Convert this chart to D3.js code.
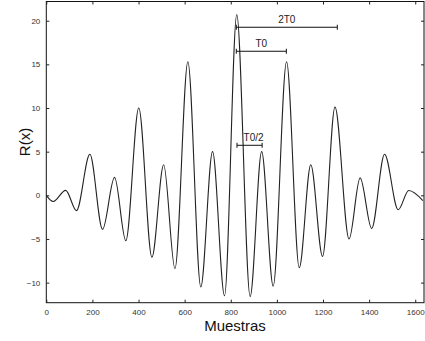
<!DOCTYPE html>
<html><head><meta charset="utf-8">
<script src="https://cdn.jsdelivr.net/npm/d3@7"></script>
<style>body{margin:0;background:#fff}svg{display:block}</style>
</head><body>
<script>
// Extrema of R(x) (sample index, value)
const samples = [0,30,84,131,189,244,296,345,401,458,509,558,614,670,721,773,826,884,934,984,1042,1097,1147,1198,1252,1313,1361,1411,1467,1526,1572,1633];
const values  = [0,-0.7,0.57,-1.75,4.7,-3.9,2.05,-5.2,10.0,-7.1,3.5,-8.4,15.3,-10.5,5.0,-11.5,20.7,-11.6,5.0,-10.4,15.3,-8.3,3.5,-7.0,10.1,-5.0,2.0,-3.8,4.7,-1.65,0.55,-0.6];
const xTicks = [0,200,400,600,800,1000,1200,1400,1600];
const yTicks = [-10,-5,0,5,10,15,20];
// Annotations
const annLabels = ["2T0","T0","T0/2"];
const annStart  = [824,824,827];
const annEnd    = [1262,1041,936];
const annLevel  = [19.25,16.5,5.73];

const W=425,H=341;
const svg=d3.select("body").append("svg").attr("width",W).attr("height",H);
const x=d3.scaleLinear().domain([0,1638]).range([46.3,424]);
const y=d3.scaleLinear().domain([-12.3,22.2]).range([302.7,1.5]);
const font="Liberation Sans, Arial, sans-serif";

// frame
svg.append("rect").attr("x",x.range()[0]).attr("y",y.range()[1])
  .attr("width",x.range()[1]-x.range()[0]).attr("height",y.range()[0]-y.range()[1])
  .attr("fill","none").attr("stroke","#111").attr("stroke-width",1);

function styleAxis(g,labels){
  g.select(".domain").remove();
  g.selectAll(".tick line").attr("stroke","#222");
  g.selectAll(".tick text").attr("font-family",font).attr("font-size",8).attr("fill","#333");
  if(!labels) g.selectAll(".tick text").remove();
}
svg.append("g").attr("transform",`translate(0,${y.range()[0]})`)
  .call(d3.axisBottom(x).tickValues(xTicks).tickFormat(d3.format("d")).tickSizeInner(-3).tickSizeOuter(0).tickPadding(7))
  .call(g=>styleAxis(g,true));
svg.append("g").attr("transform",`translate(0,${y.range()[1]})`)
  .call(d3.axisTop(x).tickValues(xTicks).tickSizeInner(-3).tickSizeOuter(0))
  .call(g=>styleAxis(g,false));
svg.append("g").attr("transform",`translate(${x.range()[0]},0)`)
  .call(d3.axisLeft(y).tickValues(yTicks).tickFormat(d3.format("d")).tickSizeInner(-3).tickSizeOuter(0).tickPadding(6))
  .call(g=>styleAxis(g,true));
svg.append("g").attr("transform",`translate(${x.range()[1]},0)`)
  .call(d3.axisRight(y).tickValues(yTicks).tickSizeInner(-3).tickSizeOuter(0))
  .call(g=>styleAxis(g,false));

// curve
const pts=samples.map((s,i)=>[s,values[i]]);
svg.append("path").datum(pts)
  .attr("d",d3.line().x(d=>x(d[0])).y(d=>y(d[1])).curve(d3.curveMonotoneX))
  .attr("fill","none").attr("stroke","#222").attr("stroke-width",1.1);

// annotations
annLabels.forEach((lab,i)=>{
  const g=svg.append("g");
  const x1=x(annStart[i]),x2=x(annEnd[i]),yy=y(annLevel[i]);
  g.append("line").attr("x1",x1).attr("x2",x2).attr("y1",yy).attr("y2",yy).attr("stroke","#111").attr("stroke-width",1);
  [x1,x2].forEach(xx=>g.append("line").attr("x1",xx).attr("x2",xx).attr("y1",yy-2.5).attr("y2",yy+2.5).attr("stroke","#111").attr("stroke-width",1));
  g.append("text").attr("x",(x1+x2)/2+(i===2?4:0)).attr("y",yy-4).attr("text-anchor","middle")
    .attr("font-family",font).attr("font-size",10).attr("fill","#222").text(lab);
});

// axis titles
svg.append("text").attr("x",235).attr("y",331).attr("text-anchor","middle")
  .attr("font-family",font).attr("font-size",15).attr("fill","#111").text("Muestras");
svg.append("text").attr("transform","translate(30,142) rotate(-90)").attr("text-anchor","middle")
  .attr("font-family",font).attr("font-size",15).attr("fill","#111").text("R(x)");
</script>
</body></html>
